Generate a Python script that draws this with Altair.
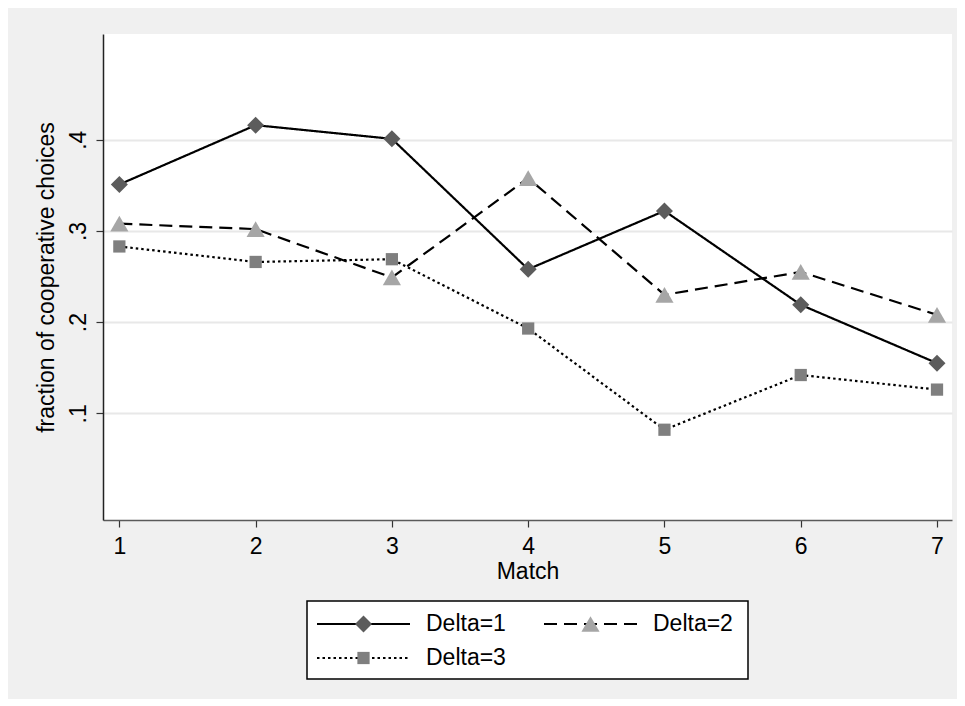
import altair as alt
import pandas as pd

# ---- data ----
match = [1, 2, 3, 4, 5, 6, 7]
delta1 = [0.351, 0.416, 0.401, 0.258, 0.322, 0.219, 0.155]
delta2 = [0.308, 0.302, 0.249, 0.358, 0.230, 0.255, 0.208]
delta3 = [0.283, 0.266, 0.269, 0.193, 0.082, 0.142, 0.126]
series = ["Delta=1", "Delta=2", "Delta=3"]
y_ticks = [0.1, 0.2, 0.3, 0.4]

# legend layout (column / row of each entry)
legend_col = [0, 1, 0]
legend_row = [0, 0, 1]

FONT = "Liberation Sans"

rows = []
for s, vals in zip(series, [delta1, delta2, delta3]):
    for m, v in zip(match, vals):
        rows.append({"series": s, "match": m, "value": v})
df = pd.DataFrame(rows)

leg_df = pd.DataFrame({"series": series, "col": legend_col, "row": legend_row})

styles = {
    "Delta=1": dict(dash=[1, 0], shape="diamond", color="#5c5c5c", size=290),
    "Delta=2": dict(dash=[13, 7], shape="triangle-up", color="#a6a6a6", size=330),
    "Delta=3": dict(dash=[2.5, 3], shape="square", color="#7f7f7f", size=150),
}

x_enc = alt.X(
    "match:Q",
    scale=alt.Scale(domain=[0.88, 7.11], nice=False, zero=False),
    axis=alt.Axis(
        values=match, title="Match", grid=False,
        domainColor="#5a5a5a", domainWidth=1.5,
        tickColor="#333333", tickSize=7, tickWidth=1.2,
        labelFont=FONT, labelFontSize=23, labelColor="black", labelPadding=8,
        titleFont=FONT, titleFontSize=23, titleFontWeight="normal",
        titleColor="black", titlePadding=2,
    ),
)
y_enc = alt.Y(
    "value:Q",
    scale=alt.Scale(domain=[-0.017, 0.516], nice=False, zero=False),
    axis=alt.Axis(
        values=y_ticks,
        labelExpr="replace(format(datum.value, '.1f'), '0.', '.')",
        title="fraction of cooperative choices",
        grid=True, gridColor="#e8e8e8", gridWidth=2,
        domainColor="#222222", domainWidth=1.5,
        tickColor="#333333", tickSize=7, tickWidth=1.2,
        labelFont=FONT, labelFontSize=23, labelColor="black",
        labelAngle=270, labelAlign="center", labelBaseline="alphabetic",
        labelPadding=11,
        titleFont=FONT, titleFontSize=23, titleFontWeight="normal",
        titleColor="black", titleAngle=270, titleAlign="center",
        titleBaseline="alphabetic", titleX=-50, titleY=243,
    ),
)

layers = []
for s in series:
    st = styles[s]
    sub = alt.Chart(df).transform_filter(alt.datum.series == s)
    layers.append(
        sub.mark_line(color="black", strokeWidth=2.2, strokeDash=st["dash"]).encode(x=x_enc, y=y_enc)
    )
for s in series:
    st = styles[s]
    sub = alt.Chart(df).transform_filter(alt.datum.series == s)
    layers.append(
        sub.mark_point(filled=True, opacity=1, strokeWidth=0, shape=st["shape"],
                       color=st["color"], size=st["size"]).encode(x=x_enc, y=y_enc)
    )

main = alt.layer(*layers).properties(
    width=849, height=486, view=alt.ViewBackground(fill="white", stroke=None)
)

# ---- legend panel ----
lx = alt.Scale(domain=[0, 441], nice=False, zero=False)
ly = alt.Scale(domain=[0, 78], nice=False, zero=False, reverse=True)
leg_base = alt.Chart(leg_df).transform_calculate(
    x0="10 + datum.col * 227",
    x1="10 + datum.col * 227 + 93",
    xm="10 + datum.col * 227 + 46.5",
    xt="10 + datum.col * 227 + 109",
    yr="23 + datum.row * 34",
)
leg_layers = []
for s in series:
    st = styles[s]
    b = leg_base.transform_filter(alt.datum.series == s)
    leg_layers.append(
        b.mark_rule(color="black", strokeWidth=2.2, strokeDash=st["dash"]).encode(
            x=alt.X("x0:Q", scale=lx, axis=None), x2="x1:Q",
            y=alt.Y("yr:Q", scale=ly, axis=None),
        )
    )
    leg_layers.append(
        b.mark_point(filled=True, opacity=1, strokeWidth=0, shape=st["shape"],
                     color=st["color"], size=st["size"]).encode(
            x=alt.X("xm:Q", scale=lx, axis=None),
            y=alt.Y("yr:Q", scale=ly, axis=None),
        )
    )
leg_layers.append(
    leg_base.mark_text(align="left", baseline="middle", font=FONT, fontSize=23,
                       color="black").encode(
        x=alt.X("xt:Q", scale=lx, axis=None),
        y=alt.Y("yr:Q", scale=ly, axis=None),
        text="series:N",
    )
)
legend = alt.layer(*leg_layers).properties(
    width=441, height=78,
    view=alt.ViewBackground(fill="white", stroke="black", strokeWidth=1.5),
)

chart = alt.vconcat(main, legend, spacing=81, center=True, bounds="flush").properties(
    padding={"left": 26, "top": 26, "right": 5, "bottom": 19},
).configure(background="#f0f0f0", font=FONT)

chart.save("out.html", embed_options={"renderer": "svg", "actions": False})
